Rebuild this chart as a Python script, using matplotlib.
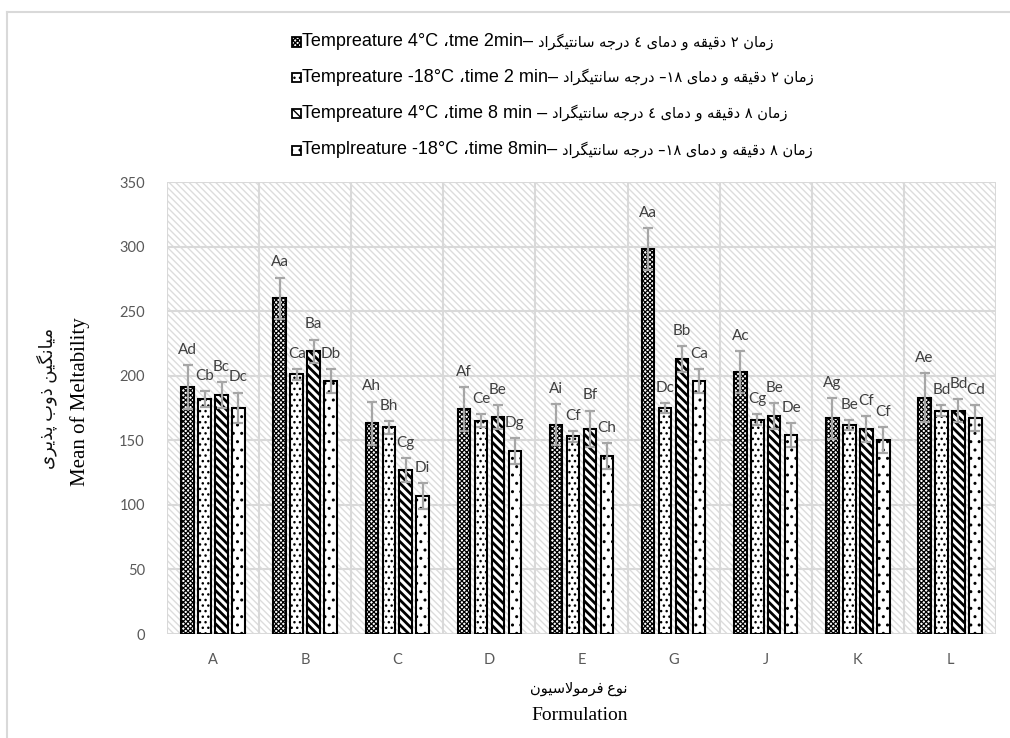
import numpy as np
import matplotlib
matplotlib.use("Agg")
import matplotlib.pyplot as plt
from matplotlib.patches import Rectangle
from matplotlib.lines import Line2D

# ---------------- data ----------------
categories = ["A", "B", "C", "D", "E", "G", "J", "K", "L"]
s1 = [191, 260, 163, 174, 162, 298, 203, 167, 183]
s2 = [182, 201, 160, 165, 153, 175, 166, 162, 173]
s3 = [185, 219, 127, 168, 159, 213, 169, 159, 173]
s4 = [175, 196, 107, 142, 138, 196, 154, 150, 167]
e1 = [17, 16, 17, 17, 16, 16, 16, 16, 19]
e2 = [6, 4, 5, 5, 4, 4, 4, 4, 4]
e3 = [10, 9, 9, 9, 14, 10, 10, 10, 9]
e4 = [12, 9, 10, 10, 10, 9, 9, 10, 10]
lab1 = ["Ad", "Aa", "Ah", "Af", "Ai", "Aa", "Ac", "Ag", "Ae"]
lab2 = ["Cb", "Ca", "Bh", "Ce", "Cf", "Dc", "Cg", "Be", "Bd"]
lab3 = ["Bc", "Ba", "Cg", "Be", "Bf", "Bb", "Be", "Cf", "Bd"]
lab4 = ["Dc", "Db", "Di", "Dg", "Ch", "Ca", "De", "Cf", "Cd"]
yticks = [0, 50, 100, 150, 200, 250, 300, 350]

legend_en = ["Tempreature 4°C ،tme 2min– ",
             "Tempreature -18°C ،time 2 min– ",
             "Tempreature 4°C ،time 8 min – ",
             "Templreature -18°C ،time 8min– "]
legend_fa = ["زمان ۲ دقیقه و دمای ٤ درجه سانتیگراد",
             "زمان ۲ دقیقه و دمای –۱۸ درجه سانتیگراد",
             "زمان ۸ دقیقه و دمای ٤ درجه سانتیگراد",
             "زمان ۸ دقیقه و دمای –۱۸ درجه سانتیگراد"]
ylabel_fa = "میانگین ذوب پذیری"
ylabel_en = "Mean of Meltability"
xlabel_fa = "نوع فرمولاسیون"
xlabel_en = "Formulation"

# ---------------- minimal Arabic-script shaping ----------------
FORMS = {
    'ا': ('\uFE8D', '\uFE8E', None, None),
    'ب': ('\uFE8F', '\uFE90', '\uFE91', '\uFE92'),
    'پ': ('\uFB56', '\uFB57', '\uFB58', '\uFB59'),
    'ت': ('\uFE95', '\uFE96', '\uFE97', '\uFE98'),
    'ج': ('\uFE9D', '\uFE9E', '\uFE9F', '\uFEA0'),
    'د': ('\uFEA9', '\uFEAA', None, None),
    'ذ': ('\uFEAB', '\uFEAC', None, None),
    'ر': ('\uFEAD', '\uFEAE', None, None),
    'ز': ('\uFEAF', '\uFEB0', None, None),
    'س': ('\uFEB1', '\uFEB2', '\uFEB3', '\uFEB4'),
    'ع': ('\uFEC9', '\uFECA', '\uFECB', '\uFECC'),
    'ف': ('\uFED1', '\uFED2', '\uFED3', '\uFED4'),
    'ق': ('\uFED5', '\uFED6', '\uFED7', '\uFED8'),
    'گ': ('\uFB92', '\uFB93', '\uFB94', '\uFB95'),
    'ل': ('\uFEDD', '\uFEDE', '\uFEDF', '\uFEE0'),
    'م': ('\uFEE1', '\uFEE2', '\uFEE3', '\uFEE4'),
    'ن': ('\uFEE5', '\uFEE6', '\uFEE7', '\uFEE8'),
    'ه': ('\uFEE9', '\uFEEA', '\uFEEB', '\uFEEC'),
    'و': ('\uFEED', '\uFEEE', None, None),
    'ی': ('\uFBFC', '\uFBFD', '\uFBFE', '\uFBFF'),
}


def _can_next(u):
    if u == 'LA':
        return False
    f = FORMS.get(u)
    return f is not None and f[2] is not None


def _can_prev(u):
    return u == 'LA' or u in FORMS


def shape_word(w):
    units, i = [], 0
    while i < len(w):
        if w[i] == 'ل' and i + 1 < len(w) and w[i + 1] == 'ا':
            units.append('LA'); i += 2
        else:
            units.append(w[i]); i += 1
    res = []
    for k, u in enumerate(units):
        pj = k > 0 and _can_next(units[k - 1]) and _can_prev(u)
        nj = k + 1 < len(units) and _can_next(u) and _can_prev(units[k + 1])
        if u == 'LA':
            res.append('\uFEFC' if pj else '\uFEFB')
        elif u in FORMS:
            iso, fin, ini, med = FORMS[u]
            res.append(med if (pj and nj) else fin if pj else ini if nj else iso)
        else:
            res.append(u)
    return ''.join(res)


def visual(phrase):
    out = []
    for w in phrase.split(' '):
        if any(c in FORMS for c in w):
            out.append(shape_word(w)[::-1])
        else:
            out.append(w)
    return ' '.join(reversed(out))


# ---------------- figure ----------------
plt.rcParams['hatch.linewidth'] = 1.0
W, H = 1010, 738
fig = plt.figure(figsize=(W / 100, H / 100), dpi=100)
ax = fig.add_axes([167 / W, 1 - 634 / H, (996 - 167) / W, (634 - 182) / H])

x = np.arange(len(categories))
step = 0.184
bw = 0.136
series = [s1, s2, s3, s4]
errs = [e1, e2, e3, e4]
labs = [lab1, lab2, lab3, lab4]
hatches = ['xxxxxxx', '...', '\\\\\\\\', '..']
hatch_lw = [0.9, 1.0, 2.0, 1.0]

# background hatch
bg = Rectangle((0, 0), 1, 1, transform=ax.transAxes, facecolor='white',
               edgecolor='#dcdcdc', hatch='\\' * 5, lw=0, zorder=0)
ax.add_patch(bg)

for j in range(4):
    pos = x + (j - 1.5) * step
    bars = ax.bar(pos, series[j], bw, facecolor='white', edgecolor='black',
                  linewidth=1.5, hatch=hatches[j], zorder=3)
    for p in bars:
        if hasattr(p, 'set_hatch_linewidth'):
            p.set_hatch_linewidth(hatch_lw[j])
    ax.errorbar(pos, series[j], yerr=errs[j], fmt='none', ecolor='#a6a6a6',
                elinewidth=1.6, capsize=3.5, capthick=1.6, zorder=4)
    for xi, v, e, t in zip(pos, series[j], errs[j], labs[j]):
        ax.annotate(t, (xi, v + e), xytext=(0, 8), textcoords='offset points',
                    ha='center', va='baseline', fontsize=11, family='Lato',
                    color='#404040', zorder=5)

ax.set_xlim(-0.5, len(categories) - 0.5)
ax.set_ylim(0, 350)
ax.set_yticks(yticks)
ax.set_xticks(x)
ax.set_xticklabels(categories)
ax.set_xticks(np.arange(-0.5, len(categories), 1), minor=True)
ax.grid(axis='y', which='major', color='#d9d9d9', lw=1.5, zorder=1)
ax.grid(axis='x', which='minor', color='#d9d9d9', lw=1.5, zorder=1)
ax.tick_params(which='both', length=0)
ax.tick_params(axis='x', pad=14)
ax.tick_params(axis='y', pad=16)
for lbl in ax.get_xticklabels() + ax.get_yticklabels():
    lbl.set_fontfamily('Lato')
    lbl.set_fontsize(10.5)
    lbl.set_color('#595959')
for s in ax.spines.values():
    s.set_visible(False)
ax.set_axisbelow(True)

# axis titles
fig.text(80 / W, 1 - 402 / H, ylabel_en, rotation=90, ha='center', va='center',
         family='Liberation Serif', fontsize=15, color='black')
fig.text(47 / W, 1 - 398 / H, visual(ylabel_fa), rotation=90, ha='center',
         va='center', family=['Liberation Serif', 'DejaVu Sans'], fontsize=13,
         color='#111111')
fig.text(580 / W, 1 - 716 / H, xlabel_en, ha='center', va='center',
         family='Liberation Serif', fontsize=14, color='black')
fig.text(628 / W, 1 - 689 / H, visual(xlabel_fa), ha='right', va='center',
         family=['Liberation Serif', 'DejaVu Sans'], fontsize=10.5, color='black')

# legend (manual layout)
fig.canvas.draw()
renderer = fig.canvas.get_renderer()
leg_y = [42, 77, 113, 150]
for j in range(4):
    yc = 1 - leg_y[j] / H
    sq = Rectangle((292 / W, yc - 4.5 / H), 8.5 / W, 9 / H, transform=fig.transFigure,
                   facecolor='white', edgecolor='black', lw=1.3,
                   hatch=hatches[j])
    fig.add_artist(sq)
    t = fig.text(302 / W, yc, legend_en[j], ha='left', va='center',
                 family=['Liberation Sans', 'DejaVu Sans'], fontsize=13,
                 color='black')
    bb = t.get_window_extent(renderer)
    fig.text(bb.x1 / W, yc, visual(legend_fa[j]), ha='left', va='center',
             family=['DejaVu Sans'], fontsize=10.5, color='black')

# chart-area border
fig.add_artist(Line2D([7 / W, 1], [1 - 12 / H, 1 - 12 / H], transform=fig.transFigure,
                      color='#d9d9d9', lw=1.5))
fig.add_artist(Line2D([7 / W, 7 / W], [0, 1 - 12 / H], transform=fig.transFigure,
                      color='#d9d9d9', lw=1.5))

fig.savefig('out.png', dpi=100)
